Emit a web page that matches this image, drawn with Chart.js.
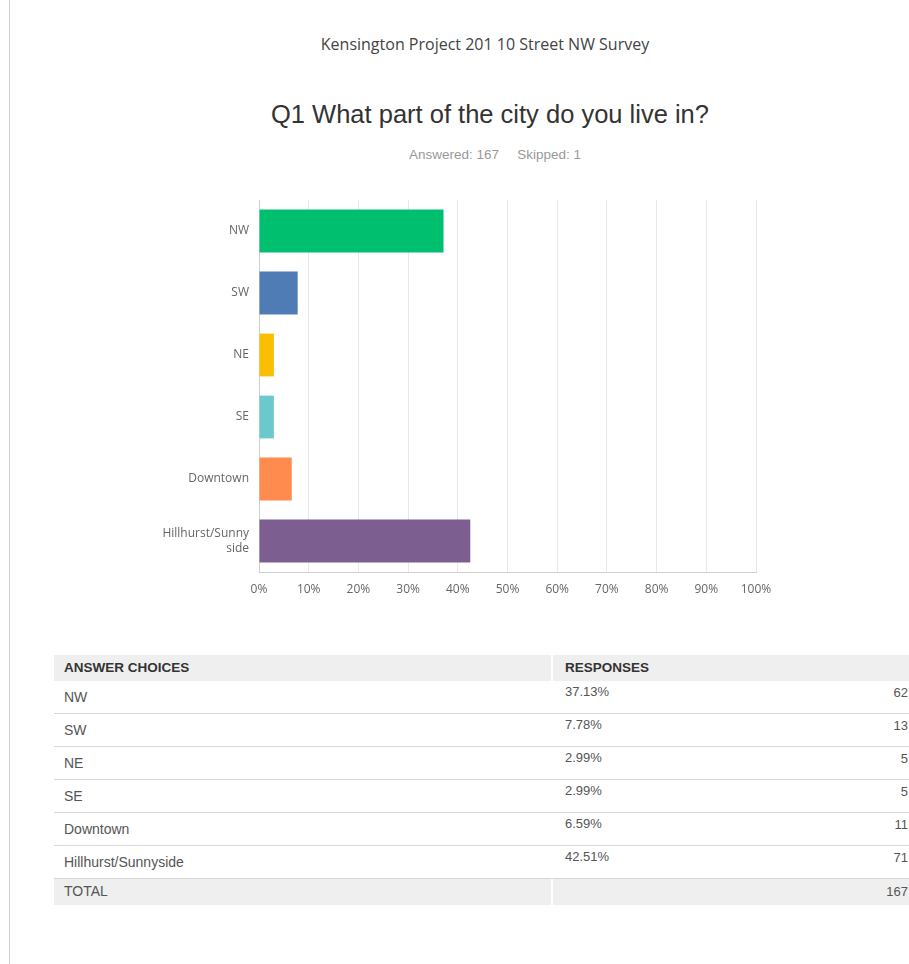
<!DOCTYPE html>
<html>
<head>
<meta charset="utf-8">
<script src="https://cdn.jsdelivr.net/npm/chart.js@4/dist/chart.umd.min.js"></script>
<style>
  html, body { margin: 0; padding: 0; background: #fff; }
  body { width: 909px; height: 964px; position: relative; overflow: hidden; font-family: "Liberation Sans", Arial, sans-serif; }
  #vline { position: absolute; left: 9px; top: 0; width: 1px; height: 964px; background: #cfcfcf; }
  #survey { position: absolute; left: 0; width: 970px; top: 33px; text-align: center; font-family: "Open Sans", sans-serif; font-size: 16px; color: #444; }
  #question { position: absolute; left: 0; width: 980px; top: 100px; text-align: center; font-size: 25.5px; color: #333; }
  #stats { position: absolute; left: 0; width: 990px; top: 147px; text-align: center; font-size: 13.5px; color: #999; }
  #stats span { margin: 0 9px; }
  #chartBox { position: absolute; left: 150px; top: 195px; width: 630px; height: 410px; }
  .cell { position: absolute; font-size: 13px; color: #555; white-space: nowrap; }
  .bg { position: absolute; }
</style>
</head>
<body>
<div id="vline"></div>
<div id="survey">Kensington Project 201 10 Street NW Survey</div>
<div id="question">Q1 What part of the city do you live in?</div>
<div id="stats"><span>Answered: 167</span><span>Skipped: 1</span></div>
<div id="chartBox"><canvas id="c"></canvas></div>
<div id="table"></div>
<script>
const categories = ["NW", "SW", "NE", "SE", "Downtown", "Hillhurst/Sunnyside"];
const axisLabels = ["NW", "SW", "NE", "SE", "Downtown", ["Hillhurst/Sunny", "side"]];
const percents = [37.13, 7.78, 2.99, 2.99, 6.59, 42.51];
const counts = [62, 13, 5, 5, 11, 71];
const total = 167;
const barColors = ["#00bf6f", "#507cb6", "#f9be00", "#6bc8cd", "#ff8b4f", "#7d5e90"];
const xTicks = [0, 10, 20, 30, 40, 50, 60, 70, 80, 90, 100];

new Chart(document.getElementById("c"), {
  type: "bar",
  data: {
    labels: axisLabels,
    datasets: [{
      data: percents,
      backgroundColor: barColors,
      borderWidth: 0,
      categoryPercentage: 0.69,
      barPercentage: 1.0
    }]
  },
  options: {
    indexAxis: "y",
    responsive: true,
    maintainAspectRatio: false,
    animation: false,
    layout: { padding: { top: 5, right: 24, bottom: 0, left: 0 } },
    plugins: { legend: { display: false }, tooltip: { enabled: false } },
    scales: {
      x: {
        min: 0, max: 100,
        afterBuildTicks: (s) => { s.ticks = xTicks.map(v => ({ value: v })); },
        afterFit: (s) => { s.height = 33; s.paddingLeft = 0; s.paddingRight = 0; },
        grid: { color: "#e8e8e8", drawTicks: false, lineWidth: 1 },
        border: { color: "#cfcfcf" },
        ticks: {
          padding: 10,
          color: "#666",
          font: { family: "Open Sans", size: 12 },
          callback: (v) => v + "%"
        }
      },
      y: {
        afterFit: (s) => { s.width = 109; s.paddingTop = 0; s.paddingBottom = 0; },
        grid: { display: false, drawTicks: false },
        border: { color: "#cfcfcf" },
        ticks: {
          padding: 10,
          color: "#666",
          font: { family: "Open Sans", size: 12 }
        }
      }
    }
  }
});

// Table
const tbl = document.getElementById("table");
function box(x, y, w, h, color) {
  const d = document.createElement("div");
  d.className = "bg";
  d.style.cssText = `left:${x}px;top:${y}px;width:${w}px;height:${h}px;background:${color}`;
  tbl.appendChild(d);
}
function text(x, y, s, extra) {
  const d = document.createElement("div");
  d.className = "cell";
  d.style.cssText = `left:${x}px;top:${y}px;` + (extra || "");
  d.textContent = s;
  tbl.appendChild(d);
  return d;
}
const L = 54, MID = 551, R = 909;
const headTop = 655, headH = 26, rowH = 33;
box(L, headTop, MID - L, headH, "#efefef");
box(MID + 2, headTop, R - MID - 2, headH, "#efefef");
text(64, headTop + 5, "ANSWER CHOICES", "font-weight:bold;font-size:13.5px;color:#333;");
text(565, headTop + 5, "RESPONSES", "font-weight:bold;font-size:13.5px;color:#333;");
let y = headTop + headH;
categories.forEach((c, i) => {
  text(64, y + 8, c, "font-size:14px;");
  text(565, y + 3, percents[i].toFixed(2) + "%");
  const n = text(0, y + 4, String(counts[i]));
  n.style.left = "auto"; n.style.right = "1px";
  y += rowH;
  box(L, y - 1, R - L, 1, "#d8d8d8");
});
box(L, y, MID - L, 26, "#efefef");
box(MID + 2, y, R - MID - 2, 26, "#efefef");
text(64, y + 4, "TOTAL", "font-size:14px;");
const t = text(0, y + 5, String(total));
t.style.left = "auto"; t.style.right = "1px";
</script>
</body>
</html>
